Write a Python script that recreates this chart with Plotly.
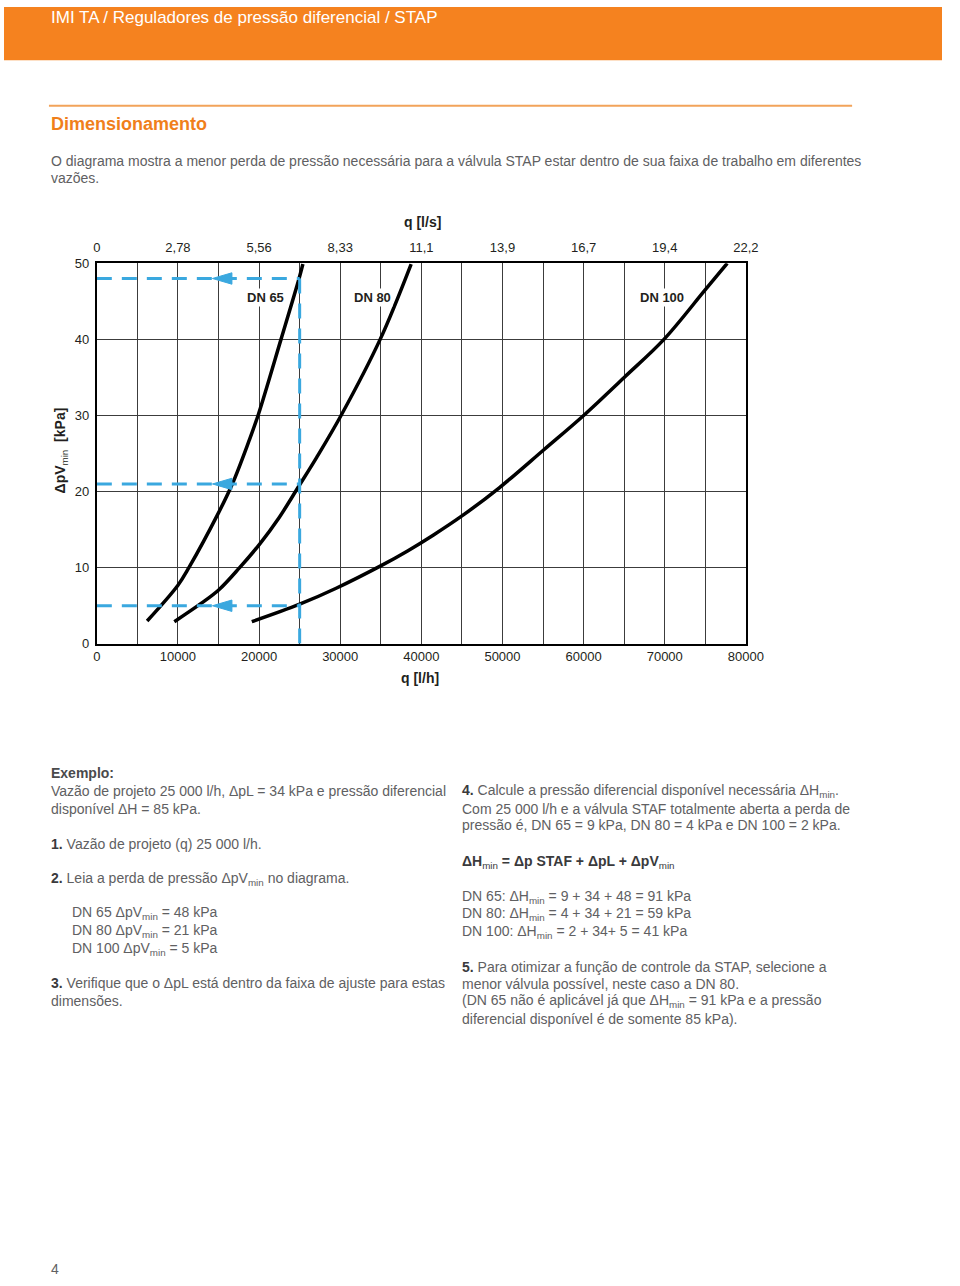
import plotly.graph_objects as go

W, H = 960, 1286
FONT = "Liberation Sans, Arial, Helvetica, sans-serif"

# ---------------- data ----------------
q_grid_lh = list(range(0, 80001, 5000))
q_label_lh = [str(v) if v % 10000 == 0 else "" for v in q_grid_lh]
q_top_vals = [0, 10000, 20000, 30000, 40000, 50000, 60000, 70000, 80000]
q_top_ls = ["0", "2,78", "5,56", "8,33", "11,1", "13,9", "16,7", "19,4", "22,2"]
dp_ticks = [0, 10, 20, 30, 40, 50]

q_dn65 = [6200, 10000, 11400, 14900, 16700, 18700, 19900, 22700, 24900, 25400]
dp_dn65 = [3.0, 7.7, 10.1, 17.0, 21.0, 26.5, 30.1, 40.0, 47.9, 49.9]

q_dn80 = [9550, 12850, 15050, 17600, 20070, 22480, 24890, 27100, 30100, 34920, 38740]
dp_dn80 = [2.9, 5.3, 7.1, 10.0, 13.1, 16.6, 20.7, 24.5, 30.0, 40.0, 49.9]

q_dn100 = [19100, 25000, 29500, 35100, 38300, 41500, 45000, 49600, 55100, 60000,
           65000, 69900, 74900, 77700]
dp_dn100 = [2.9, 5.2, 7.3, 10.3, 12.2, 14.3, 16.8, 20.5, 25.5, 30.0,
            35.0, 40.0, 46.4, 50.0]

curve_names = ["DN 65", "DN 80", "DN 100"]
label_q = [20830, 33920, 69700]
label_dp = 45.45

# example reading
q_design = 25000
dp_read = [48, 21, 5]
arrow_tip_q = 14250
arrow_len_q = 2400
arrow_half_dp = 0.75

BLUE = "#3aa8df"
ORANGE = "#f5821f"
TXT = "#606062"
DARK = "#231f20"

fig = go.Figure()

# curves
for qs, ds in [(q_dn65, dp_dn65), (q_dn80, dp_dn80), (q_dn100, dp_dn100)]:
    fig.add_trace(go.Scatter(x=qs, y=ds, mode="lines",
                             line=dict(color="black", width=3.5, shape="spline", smoothing=1.0),
                             hoverinfo="skip"))

# blue dashed reading lines
for d in dp_read:
    fig.add_trace(go.Scatter(x=[0, q_design], y=[d, d], mode="lines",
                             line=dict(color=BLUE, width=3, dash="15px,10px"),
                             hoverinfo="skip"))
fig.add_trace(go.Scatter(x=[q_design, q_design], y=[max(dp_read), 0], mode="lines",
                         line=dict(color=BLUE, width=3, dash="15px,10px"),
                         hoverinfo="skip"))
# arrows
for d in dp_read:
    fig.add_trace(go.Scatter(
        x=[arrow_tip_q, arrow_tip_q + arrow_len_q, arrow_tip_q + arrow_len_q, arrow_tip_q],
        y=[d, d + arrow_half_dp, d - arrow_half_dp, d],
        mode="lines", fill="toself", fillcolor=BLUE,
        line=dict(color=BLUE, width=1), hoverinfo="skip"))

# dummy trace for top axis
fig.add_trace(go.Scatter(x=[0], y=[0], xaxis="x2", mode="markers",
                         marker=dict(opacity=0), hoverinfo="skip"))

x0p, x1p = 95 / W, 759.3 / W
y0p, y1p = 1 - 644.3 / H, 1 - 259.3 / H

fig.update_layout(
    width=W, height=H, margin=dict(l=0, r=0, t=0, b=0),
    paper_bgcolor="white", plot_bgcolor="white", showlegend=False,
    font=dict(family=FONT, color=DARK),
    xaxis=dict(domain=[x0p, x1p], range=[0, 80000], tickvals=q_grid_lh, ticktext=q_label_lh,
               showgrid=True, gridcolor="#3c3c3c", gridwidth=1, zeroline=False,
               showline=True, linecolor="black", linewidth=2, mirror=True, ticks="",
               tickfont=dict(size=13, color=DARK, family=FONT), anchor="y"),
    xaxis2=dict(overlaying="x", side="top", anchor="y", range=[0, 80000],
                tickvals=q_top_vals, ticktext=q_top_ls, showgrid=False, zeroline=False,
                showline=False, ticks="", ticklabelstandoff=8,
                tickfont=dict(size=13, color=DARK, family=FONT)),
    yaxis=dict(domain=[y0p, y1p], range=[0, 50], tickvals=dp_ticks,
               showgrid=True, gridcolor="#3c3c3c", gridwidth=1, zeroline=False,
               showline=True, linecolor="black", linewidth=2, mirror=True, ticks="",
               ticklabelstandoff=3,
               tickfont=dict(size=13, color=DARK, family=FONT)),
)

ann = []
# curve labels
for name, lq in zip(curve_names, label_q):
    ann.append(dict(x=lq, y=label_dp, xref="x", yref="y", text="<b>%s</b>" % name,
                    showarrow=False, font=dict(size=13, color=DARK, family=FONT),
                    bgcolor="white", borderpad=1))

def txt(xp, yp, text, size=14, color=TXT, anchor="left", **kw):
    ann.append(dict(x=xp / W, y=1 - yp / H, xref="paper", yref="paper", text=text,
                    showarrow=False, xanchor=anchor, yanchor="middle",
                    font=dict(size=size, color=color, family=FONT), **kw))

# axis titles
txt(428, 218, "<b>q [l/s]</b>", size=14, color=DARK, anchor="center")
txt(426, 679, "<b>q [l/h]</b>", size=14, color=DARK, anchor="center")
txt(58, 449, "<b>ΔpV</b><sub>min</sub>\u00a0\u00a0<b>[kPa]</b>", size=14, color=DARK,
    anchor="center", textangle=-90)

# header
txt(46, 11, "IMI TA / Reguladores de pressão diferencial / STAP", size=17, color="white")
txt(46, 118, "<b>Dimensionamento</b>", size=18, color="#f07f1b")
txt(46, 156, "O diagrama mostra a menor perda de pressão necessária para a válvula STAP estar dentro de sua faixa de trabalho em diferentes")
txt(46, 173, "vazões.")

B = lambda s: "<span style='color:#3a3a3c'><b>%s</b></span>" % s
left = [
    (46, 775, "<span style='color:#4a4a4c'><b>Exemplo:</b></span>"),
    (46, 793, "Vazão de projeto 25 000 l/h, ΔpL = 34 kPa e pressão diferencial"),
    (46, 811, "disponível ΔH = 85 kPa."),
    (46, 847, B("1.") + " Vazão de projeto (q) 25 000 l/h."),
    (46, 882, B("2.") + " Leia a perda de pressão ΔpV<sub>min</sub> no diagrama."),
    (68, 917, "DN 65 ΔpV<sub>min</sub> = 48 kPa"),
    (68, 935, "DN 80 ΔpV<sub>min</sub> = 21 kPa"),
    (68, 953, "DN 100 ΔpV<sub>min</sub> = 5 kPa"),
    (46, 988, B("3.") + " Verifique que o ΔpL está dentro da faixa de ajuste para estas"),
    (46, 1006, "dimensões."),
]
right = [
    (467, 793, B("4.") + " Calcule a pressão diferencial disponível necessária ΔH<sub>min</sub>."),
    (467, 811, "Com 25 000 l/h e a válvula STAF totalmente aberta a perda de"),
    (467, 828, "pressão é, DN 65 = 9 kPa, DN 80 = 4 kPa e DN 100 = 2 kPa."),
    (467, 865, "<span style='color:#3a3a3c'><b>ΔH</b><sub>min</sub><b> = Δp STAF + ΔpL + ΔpV</b><sub>min</sub></span>"),
    (467, 900, "DN 65: ΔH<sub>min</sub> = 9 + 34 + 48 = 91 kPa"),
    (467, 918, "DN 80: ΔH<sub>min</sub> = 4 + 34 + 21 = 59 kPa"),
    (467, 936, "DN 100: ΔH<sub>min</sub> = 2 + 34+ 5 = 41 kPa"),
    (467, 971, B("5.") + " Para otimizar a função de controle da STAP, selecione a"),
    (467, 989, "menor válvula possível, neste caso a DN 80."),
    (467, 1006, "(DN 65 não é aplicável já que ΔH<sub>min</sub> = 91 kPa e a pressão"),
    (467, 1024, "diferencial disponível é de somente 85 kPa)."),
]
for xp, yp, t in left + right:
    txt(xp, yp, t)

txt(46, 1277, "4", size=14)

fig.update_layout(
    annotations=ann,
    shapes=[
        dict(type="rect", xref="paper", yref="paper", x0=0, x1=1, y0=1 - 54 / H, y1=1,
             fillcolor=ORANGE, line=dict(width=0), layer="below"),
        dict(type="line", xref="paper", yref="paper", x0=46 / W, x1=868 / W,
             y0=1 - 100 / H, y1=1 - 100 / H, line=dict(color="#f2a35a", width=2)),
    ],
)

fig.write_html(
    "out.html",
    post_script=("document.body.style.margin='0';document.body.style.padding='0';"
                 "document.body.style.overflow='hidden';"),
)
